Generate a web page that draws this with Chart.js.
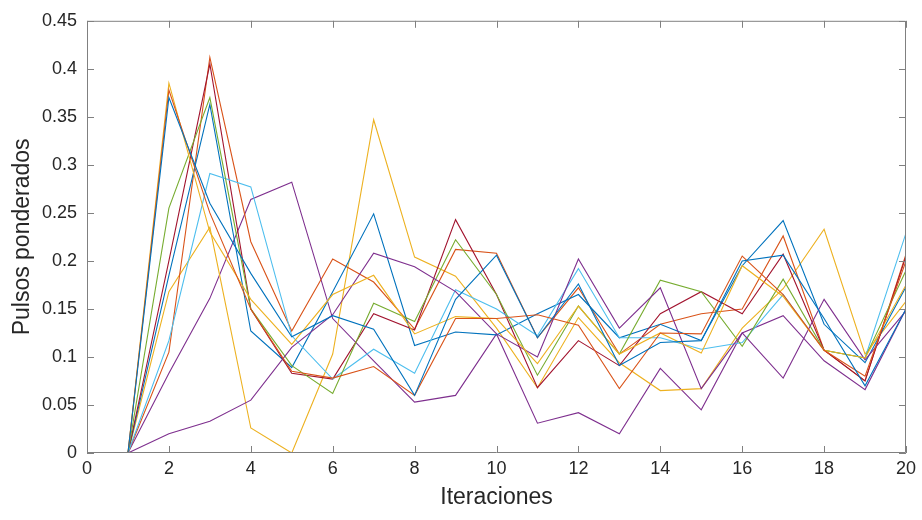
<!DOCTYPE html>
<html>
<head>
<meta charset="utf-8">
<script src="https://cdn.jsdelivr.net/npm/chart.js@4.4.0/dist/chart.umd.min.js"></script>
<style>
  html, body { margin: 0; padding: 0; background: #fff; }
  #wrap { width: 922px; height: 520px; }
</style>
</head>
<body>
<div id="wrap"><canvas id="myChart" width="922" height="520"></canvas></div>
<script>
// iteration index (x) and tick labels
var iteraciones = [1, 2, 3, 4, 5, 6, 7, 8, 9, 10, 11, 12, 13, 14, 15, 16, 17, 18, 19, 20];
var xTicks = [0, 2, 4, 6, 8, 10, 12, 14, 16, 18, 20];
var yTicks = [0, 0.05, 0.1, 0.15, 0.2, 0.25, 0.3, 0.35, 0.4, 0.45];

// pulsos ponderados, one array per curve
var serie1 = [0, 0.37, 0.26, 0.187, 0.121, 0.143, 0.129, 0.06, 0.16, 0.206, 0.12, 0.176, 0.091, 0.115, 0.117, 0.2, 0.206, 0.14, 0.07, 0.15];
var serie2 = [0, 0.378, 0.25, 0.15, 0.085, 0.078, 0.09, 0.06, 0.14, 0.14, 0.144, 0.133, 0.067, 0.125, 0.124, 0.205, 0.165, 0.107, 0.08, 0.2];
var serie3 = [0, 0.385, 0.23, 0.16, 0.113, 0.165, 0.185, 0.124, 0.142, 0.14, 0.093, 0.153, 0.103, 0.125, 0.104, 0.195, 0.163, 0.107, 0.099, 0.175];
var serie4 = [0, 0.02, 0.033, 0.055, 0.11, 0.144, 0.208, 0.194, 0.168, 0.124, 0.1, 0.202, 0.13, 0.172, 0.067, 0.125, 0.078, 0.16, 0.097, 0.148];
var serie5 = [0, 0.255, 0.37, 0.15, 0.091, 0.062, 0.156, 0.137, 0.222, 0.165, 0.081, 0.153, 0.103, 0.18, 0.168, 0.111, 0.181, 0.107, 0.099, 0.19];
var serie6 = [0, 0.117, 0.291, 0.277, 0.122, 0.077, 0.108, 0.083, 0.17, 0.15, 0.122, 0.192, 0.12, 0.12, 0.108, 0.115, 0.165, 0.107, 0.099, 0.229];
var serie7 = [0, 0.2, 0.405, 0.15, 0.083, 0.077, 0.145, 0.128, 0.243, 0.165, 0.068, 0.117, 0.091, 0.145, 0.168, 0.145, 0.207, 0.107, 0.075, 0.205];
var serie8 = [0, 0.185, 0.363, 0.127, 0.089, 0.168, 0.249, 0.112, 0.126, 0.123, 0.145, 0.165, 0.12, 0.134, 0.117, 0.195, 0.242, 0.134, 0.094, 0.173];
var serie9 = [0, 0.105, 0.412, 0.22, 0.127, 0.202, 0.178, 0.129, 0.212, 0.208, 0.12, 0.172, 0.103, 0.134, 0.145, 0.15, 0.226, 0.107, 0.075, 0.207];
var serie10 = [0, 0.168, 0.235, 0.026, 0, 0.103, 0.347, 0.204, 0.184, 0.13, 0.068, 0.141, 0.094, 0.065, 0.067, 0.13, 0.171, 0.233, 0.103, 0.158];
var serie11 = [0, 0.083, 0.161, 0.264, 0.282, 0.14, 0.096, 0.053, 0.06, 0.124, 0.031, 0.042, 0.02, 0.088, 0.045, 0.125, 0.143, 0.096, 0.066, 0.15];

var series = [serie1, serie2, serie3, serie4, serie5, serie6, serie7, serie8, serie9, serie10, serie11];
// matlab default color order
var colores = ['#0072BD', '#D95319', '#EDB120', '#7E2F8E', '#77AC30', '#4DBEEE', '#A2142F'];

var textColor = '#262626';
var axisColor = '#808080';
var fontFamily = 'Arial, "Liberation Sans", Helvetica, sans-serif';

var datasets = series.map(function(s, i) {
    return {
        data: s.map(function(v, j) { return { x: iteraciones[j], y: v }; }),
        borderColor: colores[i % colores.length],
        borderWidth: 1.1,
        pointRadius: 0,
        tension: 0,
        fill: false
    };
});

// box around the axes plus inward ticks on all four sides
var boxPlugin = {
    id: 'boxPlugin',
    afterDraw: function(chart) {
        var c = chart.ctx, a = chart.chartArea;
        var xs = chart.scales.x, ys = chart.scales.y;
        var len = 7;
        c.save();
        c.strokeStyle = axisColor;
        c.lineWidth = 1;
        c.beginPath();
        c.rect(a.left + 0.5, a.top + 0.5, a.right - a.left - 1, a.bottom - a.top - 1);
        xTicks.forEach(function(t) {
            var px = Math.round(xs.getPixelForValue(t)) + 0.5;
            c.moveTo(px, a.bottom); c.lineTo(px, a.bottom - len);
            c.moveTo(px, a.top); c.lineTo(px, a.top + len);
        });
        yTicks.forEach(function(t) {
            var py = Math.round(ys.getPixelForValue(t)) + 0.5;
            c.moveTo(a.left, py); c.lineTo(a.left + len, py);
            c.moveTo(a.right, py); c.lineTo(a.right - len, py);
        });
        c.stroke();
        c.restore();
    }
};

var ctx = document.getElementById('myChart').getContext('2d');
var myChart = new Chart(ctx, {
    type: 'line',
    data: { datasets: datasets },
    options: {
        responsive: false,
        animation: false,
        layout: { padding: { top: 14, right: 16, left: 0, bottom: 0 } },
        plugins: {
            legend: { display: false },
            tooltip: { enabled: false }
        },
        scales: {
            x: {
                type: 'linear',
                min: 0,
                max: 20,
                afterBuildTicks: function(scale) {
                    scale.ticks = xTicks.map(function(v) { return { value: v }; });
                },
                afterFit: function(scale) { scale.height = 67; },
                grid: { display: false, drawTicks: false },
                border: { display: false },
                ticks: {
                    color: textColor,
                    padding: 5,
                    maxRotation: 0,
                    autoSkip: false,
                    font: { family: fontFamily, size: 18 }
                },
                title: {
                    display: true,
                    text: 'Iteraciones',
                    color: textColor,
                    padding: { top: 0, bottom: 9 },
                    font: { family: fontFamily, size: 23 }
                }
            },
            y: {
                type: 'linear',
                min: 0,
                max: 0.45,
                afterBuildTicks: function(scale) {
                    scale.ticks = yTicks.map(function(v) { return { value: v }; });
                },
                afterFit: function(scale) { scale.width = 87; },
                grid: { display: false, drawTicks: false },
                border: { display: false },
                ticks: {
                    color: textColor,
                    padding: 10,
                    autoSkip: false,
                    font: { family: fontFamily, size: 18 },
                    callback: function(v) { return String(Math.round(v * 100) / 100); }
                },
                title: {
                    display: true,
                    text: 'Pulsos ponderados',
                    color: textColor,
                    padding: { top: 9, bottom: 0 },
                    font: { family: fontFamily, size: 23 }
                }
            }
        }
    },
    plugins: [boxPlugin]
});
</script>
</body>
</html>
